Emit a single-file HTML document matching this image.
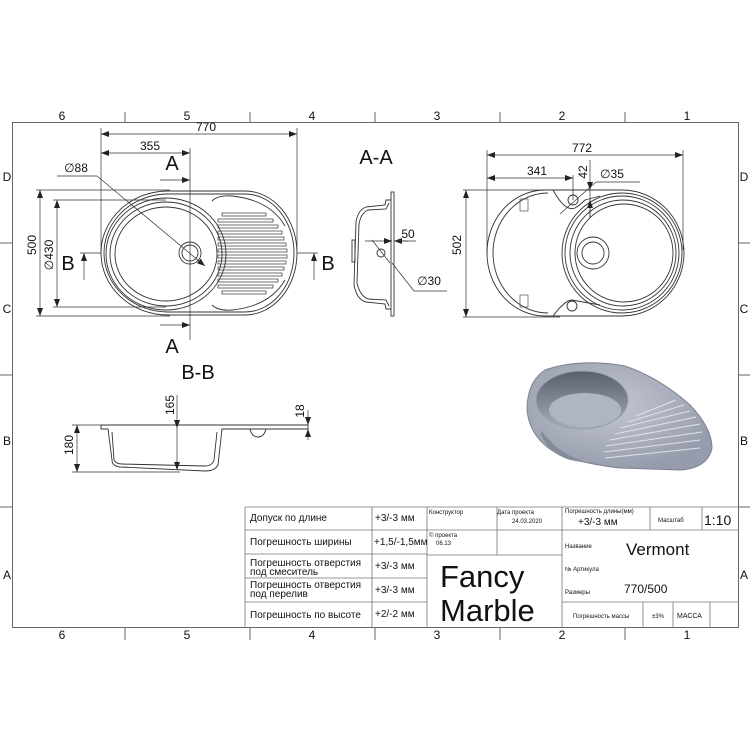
<!DOCTYPE html>
<html><head><meta charset="utf-8"><style>
html,body{margin:0;padding:0;background:#fff}
svg{display:block}
.t{font-family:"Liberation Sans",sans-serif;fill:#111}
.n{font-family:"Liberation Sans Narrow","Liberation Sans","DejaVu Sans",sans-serif;fill:#111}
</style></head><body>
<svg width="750" height="750" viewBox="0 0 750 750" xmlns="http://www.w3.org/2000/svg">
<defs>
<marker id="ar" markerWidth="8" markerHeight="6" refX="8" refY="3" orient="auto" markerUnits="userSpaceOnUse"><path d="M0,0 L8,3 L0,6 Z" fill="#222"/></marker>
<marker id="al" markerWidth="8" markerHeight="6" refX="0" refY="3" orient="auto" markerUnits="userSpaceOnUse"><path d="M8,0 L0,3 L8,6 Z" fill="#222"/></marker>
<radialGradient id="g1" cx="45%" cy="40%" r="60%"><stop offset="0" stop-color="#c4c8d4"/><stop offset="1" stop-color="#979cac"/></radialGradient>
<linearGradient id="g2" x1="0" y1="0" x2="0" y2="1"><stop offset="0" stop-color="#5a5f6d"/><stop offset="1" stop-color="#a7acbb"/></linearGradient>
</defs>
<g stroke="#666" stroke-width="1" fill="none">
<rect x="12.5" y="122.5" width="726" height="505"/>
<line x1="125" y1="112" x2="125" y2="122"/><line x1="250" y1="112" x2="250" y2="122"/><line x1="375" y1="112" x2="375" y2="122"/><line x1="500" y1="112" x2="500" y2="122"/><line x1="625" y1="112" x2="625" y2="122"/>
<line x1="125" y1="628" x2="125" y2="640"/><line x1="250" y1="628" x2="250" y2="640"/><line x1="375" y1="628" x2="375" y2="640"/><line x1="500" y1="628" x2="500" y2="640"/><line x1="625" y1="628" x2="625" y2="640"/>
<line x1="0" y1="243" x2="12" y2="243"/><line x1="0" y1="375" x2="12" y2="375"/><line x1="0" y1="507" x2="12" y2="507"/>
<line x1="739" y1="243" x2="750" y2="243"/><line x1="739" y1="375" x2="750" y2="375"/><line x1="739" y1="507" x2="750" y2="507"/>
</g>
<g class="t" font-size="12" text-anchor="middle">
<text x="62" y="120">6</text><text x="187" y="120">5</text><text x="312" y="120">4</text><text x="437" y="120">3</text><text x="562" y="120">2</text><text x="687" y="120">1</text>
<text x="62" y="639">6</text><text x="187" y="639">5</text><text x="312" y="639">4</text><text x="437" y="639">3</text><text x="562" y="639">2</text><text x="687" y="639">1</text>
<text x="7" y="181">D</text><text x="7" y="313">C</text><text x="7" y="445">B</text><text x="7" y="579">A</text>
<text x="744" y="181">D</text><text x="744" y="313">C</text><text x="744" y="445">B</text><text x="744" y="579">A</text>
</g>

<g fill="none" stroke="#333" stroke-width="0.9">
<path d="M168,191 L245,191 A52 62 0 0 1 245,315 L168,315 A67 62 0 0 1 168,191 Z"/>
<path d="M168,194 L245,194 A49 59 0 0 1 245,312 L168,312 A64 59 0 0 1 168,194 Z"/>
<ellipse cx="166" cy="254" rx="60" ry="56"/>
<ellipse cx="166" cy="254" rx="56" ry="52"/>
<ellipse cx="166" cy="254" rx="51" ry="47"/>
<circle cx="190" cy="253" r="11"/><circle cx="190" cy="253" r="8"/>
<path d="M212,201 Q218,195 232,196 Q270,200 285,226" />
<path d="M212,305 Q218,311 232,310 Q270,306 285,280" />
<g stroke-width="0.7">
<rect x="222" y="213" width="44" height="3"/><rect x="218" y="219" width="55" height="3"/><rect x="218" y="225" width="60" height="3"/><rect x="218" y="231" width="64" height="3"/><rect x="218" y="237" width="66" height="3"/><rect x="218" y="243" width="68" height="3"/><rect x="218" y="249" width="69" height="3"/><rect x="218" y="255" width="69" height="3"/><rect x="218" y="261" width="68" height="3"/><rect x="218" y="267" width="66" height="3"/><rect x="218" y="273" width="64" height="3"/><rect x="218" y="279" width="60" height="3"/><rect x="218" y="285" width="55" height="3"/><rect x="222" y="291" width="44" height="3"/>
</g>
</g>
<g stroke="#333" stroke-width="0.7" fill="none">
<line x1="101" y1="128" x2="101" y2="255"/><line x1="297" y1="128" x2="297" y2="250"/>
<line x1="101" y1="134" x2="297" y2="134" marker-start="url(#al)" marker-end="url(#ar)"/>
<line x1="101" y1="153" x2="190" y2="153" marker-start="url(#al)" marker-end="url(#ar)"/>
<line x1="190" y1="148" x2="190" y2="340"/>
<line x1="160" y1="180" x2="190" y2="180" marker-end="url(#ar)"/>
<line x1="160" y1="325" x2="190" y2="325" marker-end="url(#ar)"/>
<line x1="57" y1="176" x2="97" y2="176"/><line x1="97" y1="176" x2="205" y2="266" marker-end="url(#ar)"/>
<line x1="36" y1="190" x2="170" y2="190"/><line x1="36" y1="316" x2="170" y2="316"/>
<line x1="53" y1="200" x2="166" y2="200"/><line x1="53" y1="307" x2="166" y2="307"/>
<line x1="40" y1="190" x2="40" y2="316" marker-start="url(#al)" marker-end="url(#ar)"/>
<line x1="57" y1="200" x2="57" y2="307" marker-start="url(#al)" marker-end="url(#ar)"/>
<line x1="80" y1="253" x2="101" y2="253"/><line x1="297" y1="253" x2="318" y2="253"/>
<line x1="84" y1="280" x2="84" y2="253" marker-end="url(#ar)"/>
<line x1="314" y1="280" x2="314" y2="253" marker-end="url(#ar)"/>
</g>
<g class="t" font-size="12" text-anchor="middle">
<text x="206" y="131">770</text><text x="150" y="150">355</text>
<text x="76" y="172">∅88</text>
<text x="172" y="170" font-size="20">A</text><text x="172" y="353" font-size="20">A</text>
<text x="68" y="270" font-size="20">B</text><text x="328" y="270" font-size="20">B</text>
<text transform="translate(36,245) rotate(-90)">500</text>
<text transform="translate(53,255) rotate(-90)">∅430</text>
<text x="376" y="164" font-size="20">A-A</text>
<text x="198" y="379" font-size="20">B-B</text>
</g>

<g fill="none" stroke="#333" stroke-width="0.9">
<rect x="391" y="192" width="3" height="124"/>
<path d="M391,200 L386,200 L385,205 L366,207 Q358,210 356,222 L354,285 Q357,300 366,302 L385,304 L386,309 L391,309"/>
<path d="M389,203 L386,209 L368,210 Q361,213 359,224 L357,283 Q360,296 368,299 L386,300 L389,306"/>
<rect x="352" y="240" width="3" height="22"/>
<circle cx="381" cy="253" r="4"/>
</g>
<g stroke="#333" stroke-width="0.7" fill="none">
<line x1="365" y1="241" x2="392" y2="241" marker-end="url(#ar)"/>
<line x1="408" y1="241" x2="394" y2="241" marker-end="url(#ar)"/>
<line x1="394" y1="241" x2="416" y2="241"/>
<line x1="372" y1="240" x2="390" y2="263"/>
<line x1="392" y1="263" x2="414" y2="291"/><line x1="414" y1="291" x2="447" y2="291"/>
</g>
<g class="t" font-size="12" text-anchor="middle"><text x="408" y="238">50</text><text x="429" y="285">∅30</text></g>

<g fill="none" stroke="#333" stroke-width="0.9">
<path d="M560,190 L622,190 A62 63 0 0 1 622,316 L560,316 L545,316 A58 63 0 0 1 545,190 Z"/>
<path d="M548,193 A55 60 0 0 0 548,313"/>
<circle cx="622" cy="253" r="60"/><circle cx="622" cy="253" r="57"/><circle cx="623" cy="253" r="53"/><circle cx="624" cy="253" r="49"/>
<circle cx="593" cy="253" r="16"/><circle cx="593" cy="253" r="11"/>
<circle cx="573" cy="200" r="5"/><circle cx="572" cy="306" r="5"/>
<path d="M553,190 Q565,212 575,208 Q580,205 585,200 L600,196"/>
<path d="M553,316 Q565,300 572,300 L600,305"/>
<rect x="520" y="199" width="8" height="12" stroke-width="0.6"/><rect x="520" y="295" width="8" height="12" stroke-width="0.6"/>
</g>
<g stroke="#333" stroke-width="0.7" fill="none">
<line x1="487" y1="150" x2="487" y2="255"/><line x1="683" y1="150" x2="683" y2="250"/>
<line x1="487" y1="155" x2="683" y2="155" marker-start="url(#al)" marker-end="url(#ar)"/>
<line x1="487" y1="178" x2="573" y2="178" marker-start="url(#al)" marker-end="url(#ar)"/>
<line x1="573" y1="175" x2="573" y2="200"/>
<line x1="590" y1="160" x2="590" y2="190" marker-end="url(#ar)"/>
<line x1="590" y1="218" x2="590" y2="200" marker-end="url(#ar)"/>
<line x1="590" y1="190" x2="590" y2="218"/>
<line x1="596" y1="182" x2="640" y2="182"/><line x1="596" y1="182" x2="560" y2="214"/>
<line x1="463" y1="190" x2="580" y2="190"/><line x1="463" y1="317" x2="560" y2="317"/>
<line x1="466" y1="190" x2="466" y2="317" marker-start="url(#al)" marker-end="url(#ar)"/>
</g>
<g class="t" font-size="12" text-anchor="middle">
<text x="582" y="152">772</text><text x="537" y="175">341</text>
<text transform="translate(587,172) rotate(-90)">42</text>
<text x="612" y="178">∅35</text>
<text transform="translate(461,245) rotate(-90)">502</text>
</g>

<g fill="none" stroke="#333" stroke-width="0.9">
<path d="M101,425 L308,425 L308,429 L222,429 L218,465 Q215,471 205,471 L120,467 Q112,466 112,460 L108,429 L101,429 Z"/>
<path d="M112,432 L114,460 Q116,464 122,464 L205,466 Q212,466 214,460 L217,432"/>
<path d="M250,429 Q252,437 258,437 Q264,437 266,429"/>
</g>
<g stroke="#333" stroke-width="0.7" fill="none">
<line x1="72" y1="425" x2="101" y2="425"/><line x1="72" y1="472" x2="180" y2="472"/>
<line x1="77" y1="425" x2="77" y2="472" marker-start="url(#al)" marker-end="url(#ar)"/>
<line x1="177" y1="395" x2="177" y2="428" marker-end="url(#ar)"/>
<line x1="177" y1="428" x2="177" y2="470" marker-end="url(#ar)"/>
<line x1="308" y1="410" x2="308" y2="425" marker-end="url(#ar)"/>
<line x1="308" y1="440" x2="308" y2="429" marker-end="url(#ar)"/>
</g>
<g class="t" font-size="12" text-anchor="middle">
<text transform="translate(73,445) rotate(-90)">180</text>
<text transform="translate(174,405) rotate(-90)">165</text>
<text transform="translate(304,411) rotate(-90)">18</text>
</g>

<g>
<path d="M545,370 Q580,358 625,366 Q660,378 690,405 Q712,428 712,448 Q708,468 680,470 L620,468 Q585,464 560,455 Q530,440 527,410 Q527,382 545,370 Z" fill="url(#g1)" stroke="#7d8292" stroke-width="1"/>
<path d="M540,430 Q545,452 570,460 L610,467 Q575,462 556,447 Z" fill="#858a9a"/>
<ellipse cx="582" cy="400" rx="46" ry="29" fill="url(#g2)" stroke="#9a9fae"/>
<ellipse cx="585" cy="410" rx="36" ry="17" fill="#b0b5c3"/>
<g stroke="#dfe2e9" stroke-width="1">
<line x1="604" y1="452" x2="700" y2="440"/><line x1="606" y1="446" x2="702" y2="432"/><line x1="610" y1="440" x2="700" y2="424"/><line x1="615" y1="434" x2="696" y2="417"/><line x1="620" y1="428" x2="690" y2="411"/><line x1="628" y1="422" x2="684" y2="405"/><line x1="636" y1="416" x2="676" y2="400"/><line x1="605" y1="458" x2="700" y2="448"/>
</g>
</g>

<g stroke="#777" stroke-width="0.8" fill="none">
<line x1="245" y1="507" x2="738" y2="507"/>
<line x1="245" y1="530" x2="427" y2="530"/><line x1="245" y1="554" x2="427" y2="554"/><line x1="245" y1="578" x2="427" y2="578"/><line x1="245" y1="602" x2="427" y2="602"/>
<line x1="427" y1="530" x2="562" y2="530"/><line x1="427" y1="555" x2="562" y2="555"/>
<line x1="562" y1="530" x2="738" y2="530"/><line x1="562" y1="602" x2="738" y2="602"/>
<line x1="245" y1="507" x2="245" y2="627"/><line x1="372" y1="507" x2="372" y2="627"/><line x1="427" y1="507" x2="427" y2="627"/>
<line x1="497" y1="507" x2="497" y2="555"/><line x1="562" y1="507" x2="562" y2="627"/>
<line x1="650" y1="507" x2="650" y2="530"/><line x1="702" y1="507" x2="702" y2="530"/>
<line x1="643" y1="602" x2="643" y2="627"/><line x1="673" y1="602" x2="673" y2="627"/><line x1="710" y1="602" x2="710" y2="627"/>
</g>
<g class="n" font-size="10">
<text x="250" y="521">Допуск по длине</text>
<text x="250" y="545">Погрешность ширины</text>
<text x="250" y="566">Погрешность отверстия</text><text x="250" y="575">под смеситель</text>
<text x="250" y="588">Погрешность отверстия</text><text x="250" y="597">под перелив</text>
<text x="250" y="618">Погрешность по высоте</text>
<text x="375" y="521">+3/-3 мм</text>
<text x="374" y="545">+1,5/-1,5мм</text>
<text x="375" y="569">+3/-3 мм</text>
<text x="375" y="593">+3/-3 мм</text>
<text x="375" y="617">+2/-2 мм</text>
<text x="429" y="514" font-size="6">Конструктор</text>
<text x="497" y="514" font-size="6">Дата проекта</text>
<text x="512" y="523" font-size="6">24.03.2020</text>
<text x="429" y="537" font-size="6">© проекта</text>
<text x="436" y="545" font-size="6">06.13</text>
<text x="565" y="513" font-size="6">Погрешность длины(мм)</text>
<text x="578" y="525">+3/-3 мм</text>
<text x="658" y="522" font-size="6">Масштаб</text>
<text x="704" y="525" font-size="14">1:10</text>
<text x="565" y="548" font-size="6">Название</text>
<text x="626" y="555" font-size="17">Vermont</text>
<text x="565" y="571" font-size="6">№ Артикула</text>
<text x="565" y="594" font-size="6">Размеры</text>
<text x="624" y="593" font-size="12">770/500</text>
<text x="573" y="618" font-size="6">Погрешность массы</text>
<text x="652" y="618" font-size="6">±3%</text>
<text x="677" y="618" font-size="7">МАССА</text>
<text x="440" y="587" font-size="31">Fancy</text>
<text x="440" y="621" font-size="31">Marble</text>
</g>
</svg>
</body></html>
